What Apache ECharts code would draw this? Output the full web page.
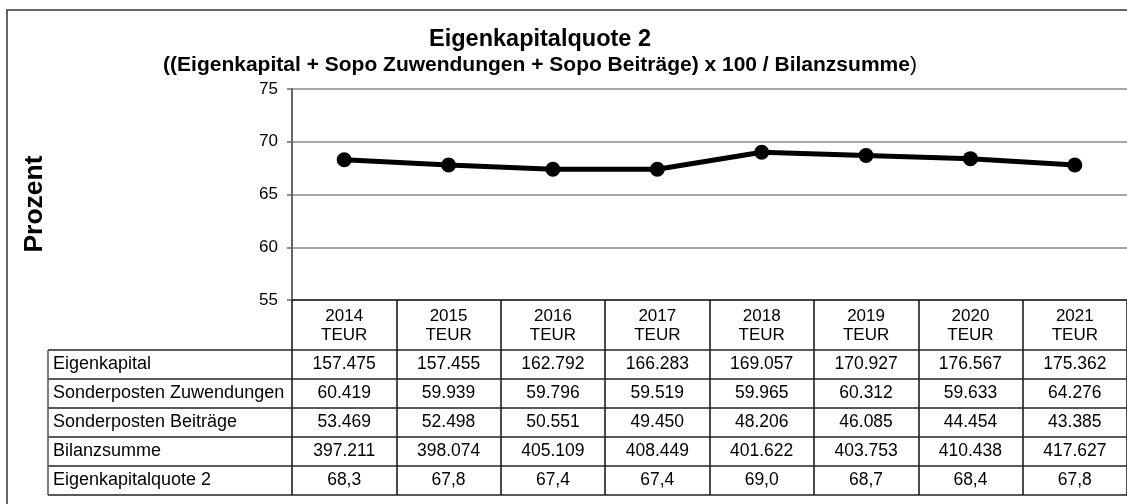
<!DOCTYPE html>
<html>
<head>
<meta charset="utf-8">
<script src="https://cdn.jsdelivr.net/npm/echarts@6/dist/echarts.min.js"></script>
<style>
  html, body { margin: 0; padding: 0; background: #fff; }
  #chart { width: 1127px; height: 504px; }
</style>
</head>
<body>
<div id="chart"></div>
<script>
var years = ['2014', '2015', '2016', '2017', '2018', '2019', '2020', '2021'];
var eigenkapital = [157475, 157455, 162792, 166283, 169057, 170927, 176567, 175362];
var sopoZuwendungen = [60419, 59939, 59796, 59519, 59965, 60312, 59633, 64276];
var sopoBeitraege = [53469, 52498, 50551, 49450, 48206, 46085, 44454, 43385];
var bilanzsumme = [397211, 398074, 405109, 408449, 401622, 403753, 410438, 417627];
var quote = [68.3, 67.8, 67.4, 67.4, 69.0, 68.7, 68.4, 67.8];
var yTicks = [55, 60, 65, 70, 75];

var FONT = '"Liberation Sans", Arial, sans-serif';

// 157475 -> "157.475"
function teur(v) {
  return String(v).replace(/\B(?=(\d{3})+(?!\d))/g, '.');
}
function pct(v) {
  return v.toFixed(1).replace('.', ',');
}

var rows = [
  { name: 'Eigenkapital', values: eigenkapital.map(teur) },
  { name: 'Sonderposten Zuwendungen', values: sopoZuwendungen.map(teur) },
  { name: 'Sonderposten Beiträge', values: sopoBeitraege.map(teur) },
  { name: 'Bilanzsumme', values: bilanzsumme.map(teur) },
  { name: 'Eigenkapitalquote 2', values: quote.map(pct) }
];

var chart = echarts.init(document.getElementById('chart'));

var option = {
  animation: false,
  textStyle: { fontFamily: FONT },
  grid: { left: 292, top: 89, right: -5, bottom: 204 },
  xAxis: {
    type: 'category',
    data: years,
    boundaryGap: true,
    axisLine: { lineStyle: { color: '#444', width: 2 } },
    axisTick: { show: true, length: 195, lineStyle: { color: '#111', width: 1.5 } },
    axisLabel: {
      formatter: function (v) { return v + '\nTEUR'; },
      color: '#000', fontSize: 17, lineHeight: 19, margin: 7, fontFamily: FONT
    },
    splitLine: { show: false }
  },
  yAxis: {
    type: 'value',
    min: yTicks[0],
    max: yTicks[yTicks.length - 1],
    interval: 5,
    axisLine: { show: true, lineStyle: { color: '#666', width: 2 } },
    axisTick: { show: true, length: 5, lineStyle: { color: '#666', width: 1.5 } },
    axisLabel: { color: '#000', fontSize: 17, margin: 14, fontFamily: FONT },
    splitLine: { show: true, lineStyle: { color: '#888', width: 1.5 } }
  },
  series: [{
    type: 'line',
    data: quote,
    color: '#000',
    symbol: 'circle',
    symbolSize: 15,
    lineStyle: { color: '#000', width: 5 },
    itemStyle: { color: '#000' },
    z: 10
  }]
};

chart.setOption(option);

// Tabelle unter dem Diagramm, Spalten aus der x-Achse
var tableTop = 350, rowH = 29, labelX = 48, rightX = 1140;
var g = [];

g.push({
  type: 'rect', z: 0,
  shape: { x: 7, y: 10, width: 1200, height: 600 },
  style: { fill: 'none', stroke: '#333', lineWidth: 1.5 }
});

g.push({
  type: 'text', z: 5,
  style: { text: 'Eigenkapitalquote 2', x: 540, y: 40, align: 'center', verticalAlign: 'middle',
    font: 'bold 23.5px ' + FONT, fill: '#000' }
});
g.push({
  type: 'text', z: 5,
  style: {
    text: '{b|((Eigenkapital + Sopo Zuwendungen + Sopo Beiträge) x 100 / Bilanzsumme}{n|)}',
    x: 540, y: 65, align: 'center', verticalAlign: 'middle',
    rich: {
      b: { font: 'bold 21px ' + FONT, fill: '#000' },
      n: { font: '21px ' + FONT, fill: '#000' }
    }
  }
});
g.push({
  type: 'text', z: 5,
  x: 35, y: 204, rotation: Math.PI / 2,
  style: { text: 'Prozent', x: 0, y: 0, align: 'center', verticalAlign: 'middle',
    font: 'bold 26.5px ' + FONT, fill: '#000' }
});

for (var r = 0; r <= rows.length; r++) {
  var y = tableTop + r * rowH;
  g.push({
    type: 'line', z: 3,
    shape: { x1: labelX, y1: y, x2: rightX, y2: y },
    style: { stroke: '#222', lineWidth: 1.5 }
  });
}
g.push({
  type: 'line', z: 3,
  shape: { x1: labelX, y1: tableTop, x2: labelX, y2: tableTop + rows.length * rowH },
  style: { stroke: '#555', lineWidth: 1.5 }
});

rows.forEach(function (row, r) {
  var cy = tableTop + r * rowH + rowH / 2;
  g.push({
    type: 'text', z: 5,
    style: { text: row.name, x: labelX + 5, y: cy, align: 'left', verticalAlign: 'middle',
      font: '18px ' + FONT, fill: '#000' }
  });
  row.values.forEach(function (v, i) {
    var cx = chart.convertToPixel({ xAxisIndex: 0 }, years[i]);
    g.push({
      type: 'text', z: 5,
      style: { text: v, x: cx, y: cy, align: 'center', verticalAlign: 'middle',
        font: '17.5px ' + FONT, fill: '#000' }
    });
  });
});

chart.setOption({ graphic: g });
</script>
</body>
</html>
